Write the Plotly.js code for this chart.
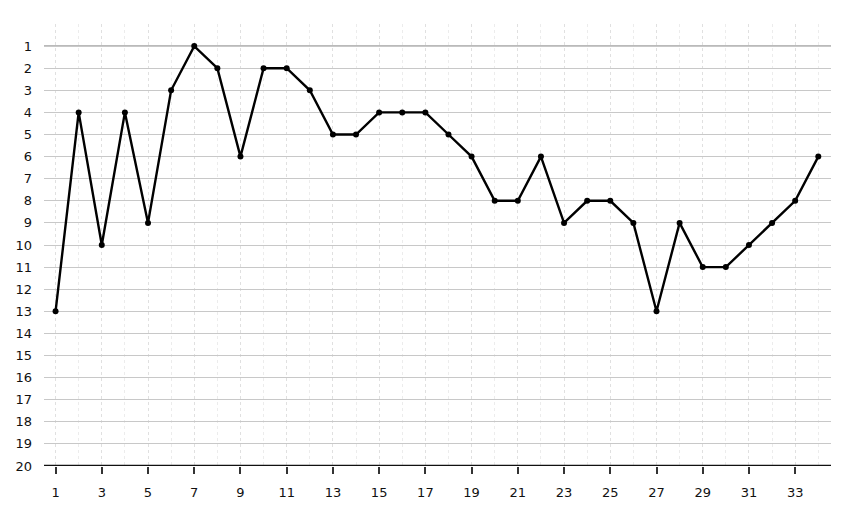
<!DOCTYPE html>
<html>
<head>
<meta charset="utf-8">
<script src="https://cdn.plot.ly/plotly-3.0.1.min.js"></script>
<style>html,body{margin:0;padding:0;background:#fff;}#chart{width:845px;height:513px;}</style>
</head>
<body>
<div id="chart"></div>
<script>
var rounds = [1,2,3,4,5,6,7,8,9,10,11,12,13,14,15,16,17,18,19,20,21,22,23,24,25,26,27,28,29,30,31,32,33,34];
var positions = [13,4,10,4,9,3,1,2,6,2,2,3,5,5,4,4,4,5,6,8,8,6,9,8,8,9,13,9,11,11,10,9,8,6];
var yTickVals = [0,1,2,3,4,5,6,7,8,9,10,11,12,13,14,15,16,17,18,19,20];
var yTickText = ['', '1','2','3','4','5','6','7','8','9','10','11','12','13','14','15','16','17','18','19','20'];
var xTickVals = [1,3,5,7,9,11,13,15,17,19,21,23,25,27,29,31,33];

var trace = {
  x: rounds, y: positions, type: 'scatter', mode: 'lines+markers',
  line: {color: '#000', width: 2.4},
  marker: {color: '#000', size: 6},
  hoverinfo: 'x+y'
};
var layout = {
  width: 845, height: 513,
  margin: {l: 44, r: 14, t: 24, b: 47},
  paper_bgcolor: '#fff', plot_bgcolor: '#fff',
  showlegend: false,
  font: {family: 'DejaVu Sans, Verdana, sans-serif', size: 13, color: '#111'},
  xaxis: {
    range: [0.5, 34.55],
    tickmode: 'array', tickvals: xTickVals,
    showgrid: true, gridcolor: '#e0e0e0', griddash: 'dot', gridwidth: 1,
    minor: {tickmode: 'linear', tick0: 0, dtick: 1, showgrid: true, gridcolor: '#ececec', griddash: 'dot', gridwidth: 1},
    zeroline: false,
    showline: false,
    ticks: 'outside', ticklen: 7, tickwidth: 2, tickcolor: '#333',
    ticklabelstandoff: 7,
    tickfont: {size: 13, color: '#111'}
  },
  yaxis: {
    range: [20, 0],
    tickmode: 'array', tickvals: yTickVals, ticktext: yTickText,
    showgrid: true, gridcolor: '#c8c8c8', gridwidth: 1,
    zeroline: false, showline: false, ticks: '',
    ticklabelstandoff: 11,
    tickfont: {size: 13, color: '#111'}
  },
  shapes: [
    {type: 'line', xref: 'paper', x0: 0, x1: 1, yref: 'y', y0: 1, y1: 1, line: {color: '#777', width: 1.3}, layer: 'below'},
    {type: 'line', xref: 'paper', x0: 0, x1: 1, yref: 'y', y0: 20, y1: 20, line: {color: '#111', width: 2.5}, layer: 'above'}
  ]
};
Plotly.newPlot('chart', [trace], layout, {displayModeBar: false, staticPlot: true});
</script>
</body>
</html>
